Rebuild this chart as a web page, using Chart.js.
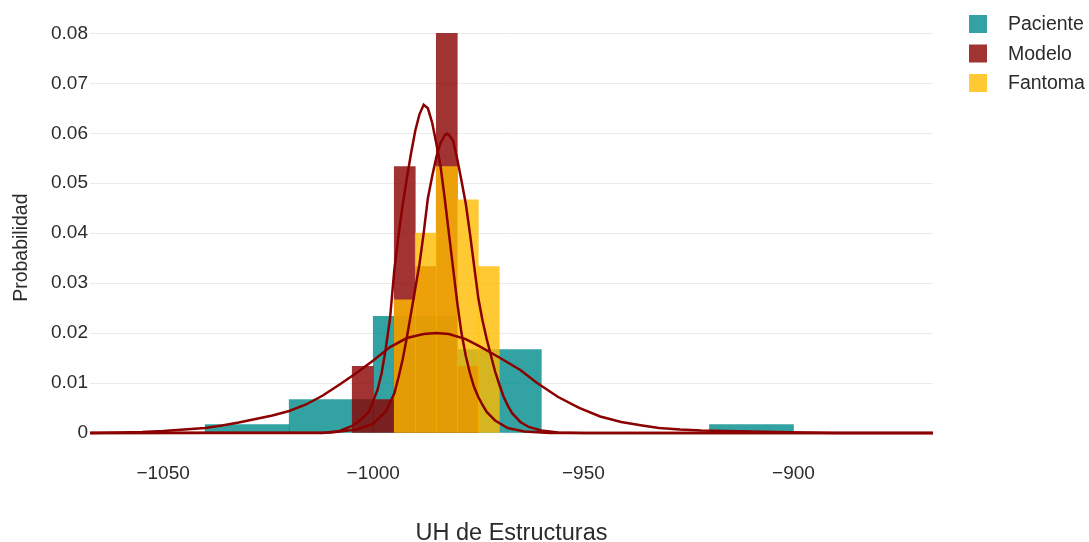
<!DOCTYPE html>
<html>
<head>
<meta charset="utf-8">
<script src="https://cdn.jsdelivr.net/npm/chart.js"></script>
<style>
  html, body { margin: 0; padding: 0; background: #ffffff; }
  #wrap { width: 1089px; height: 542px; }
</style>
</head>
<body>
<div id="wrap"><canvas id="chart" width="1089" height="542"></canvas></div>
<script>
// Histogram bin centres (HU) and densities per group
const pacienteBins = [-1030, -1010, -990, -970, -910];
const pacienteDensity = [0.00167, 0.00667, 0.02333, 0.01667, 0.00167];

const modeloBins = [-1002.5, -997.5, -992.5, -987.5, -982.5, -977.5];
const modeloDensity = [0.01333, 0.00667, 0.05333, 0.03333, 0.08, 0.01333];

const fantomaBins = [-992.5, -987.5, -982.5, -977.5, -972.5];
const fantomaDensity = [0.02667, 0.04, 0.05333, 0.04667, 0.03333];

// Density curves (HU, density)
const pacienteCurveX = [-1067.4, -1060, -1055, -1050, -1045, -1040, -1036, -1032, -1028, -1024,
  -1020, -1016, -1012, -1008, -1004, -1000, -996, -992, -988, -985,
  -982, -978, -975, -970, -965, -961, -956, -951, -946, -941,
  -936, -932, -927, -922, -916, -910, -904, -898, -890, -866.8];
const pacienteCurveY = [0, 0.0001, 0.0002, 0.0004, 0.0007, 0.0010, 0.0015, 0.0021, 0.0028, 0.0035,
  0.0044, 0.0057, 0.0075, 0.0097, 0.0120, 0.0145, 0.0172, 0.0190, 0.0198, 0.0200,
  0.0198, 0.0188, 0.0175, 0.0151, 0.0126, 0.0100, 0.0072, 0.0050, 0.0033, 0.0022,
  0.0015, 0.0010, 0.0007, 0.0005, 0.0004, 0.0003, 0.0002, 0.0001, 0, 0];

const modeloCurveX = [-1067.4, -1012, -1008, -1005, -1003, -1001, -999, -998, -997, -996,
  -995, -994, -993, -992, -991, -990, -989, -988, -987, -986,
  -985, -984, -983, -982, -981, -980, -979, -978, -977, -976,
  -975, -974, -973, -971, -968, -964, -958, -866.8];
const modeloCurveY = [0, 0, 0.0004, 0.0014, 0.0026, 0.0043, 0.0086, 0.0120, 0.0170, 0.0230,
  0.0325, 0.0395, 0.0456, 0.0510, 0.0560, 0.0605, 0.0638, 0.0657, 0.0650, 0.0622,
  0.0580, 0.0535, 0.0470, 0.0400, 0.0330, 0.0260, 0.0200, 0.0155, 0.0120, 0.0092,
  0.0072, 0.0056, 0.0042, 0.0025, 0.0010, 0.0003, 0, 0];

const fantomaCurveX = [-1067.4, -1010, -1004, -1000, -997, -995, -994, -993, -992, -991,
  -990, -989, -988, -987, -986, -985, -984, -983, -982.5, -982,
  -981, -980, -979, -978, -977, -976, -975, -974, -973, -972,
  -971, -970, -969, -968, -967, -965, -963, -960, -956, -950, -866.8];
const fantomaCurveY = [0, 0.0001, 0.0007, 0.0018, 0.0043, 0.0079, 0.0111, 0.0147, 0.0191, 0.0240,
  0.0289, 0.0338, 0.0400, 0.0470, 0.0513, 0.0552, 0.0580, 0.0596, 0.0599, 0.0597,
  0.0585, 0.0548, 0.0505, 0.0460, 0.0400, 0.0335, 0.0270, 0.0225, 0.0188, 0.0155,
  0.0123, 0.0097, 0.0073, 0.0055, 0.0040, 0.0022, 0.0012, 0.0005, 0.0001, 0, 0];

// Axis ticks
const xTickValues = [-1050, -1000, -950, -900];
const xTickLabels = ['\u22121050', '\u22121000', '\u2212950', '\u2212900'];
const yTickValues = [0, 0.01, 0.02, 0.03, 0.04, 0.05, 0.06, 0.07, 0.08];
const yTickLabels = ['0', '0.01', '0.02', '0.03', '0.04', '0.05', '0.06', '0.07', '0.08'];

const seriesNames = ['Paciente', 'Modelo', 'Fantoma'];

const FONT = "'Liberation Sans', Arial, Helvetica, sans-serif";
const TEXT = '#2b2b2b';
const X_MIN = -1067.4, X_MAX = -866.8;
const CURVE_COLOR = '#8b0000';

const pairs = (xs, ys) => xs.map((x, i) => ({ x, y: ys[i] }));
const fixedTicks = (values) => (scale) => { scale.ticks = values.map(v => ({ value: v })); };

// Each histogram sits on its own hidden x scale so its bars span its own bin width
const hiddenX = () => ({
  type: 'linear', axis: 'x', display: false, offset: false, min: X_MIN, max: X_MAX,
  afterBuildTicks: fixedTicks(xTickValues)
});

const barSet = (label, bins, dens, color, axisId, order) => ({
  type: 'bar', label, xAxisID: axisId,
  data: pairs(bins, dens),
  backgroundColor: color, borderWidth: 0,
  grouped: false, barPercentage: 1, categoryPercentage: 1,
  order
});

const curveSet = (label, xs, ys) => ({
  type: 'line', label, xAxisID: 'x',
  data: pairs(xs, ys),
  borderColor: CURVE_COLOR, borderWidth: 2.5,
  pointRadius: 0, pointHoverRadius: 0, fill: false, tension: 0,
  order: 0
});

// Legend drawn in the right margin, one swatch per histogram
const sideLegend = {
  id: 'sideLegend',
  afterDraw(chart, args, o) {
    const ctx = chart.ctx;
    ctx.save();
    ctx.font = `${o.fontSize}px ${FONT}`;
    ctx.textBaseline = 'middle';
    ctx.textAlign = 'left';
    let row = 0;
    chart.data.datasets.forEach(ds => {
      if (ds.type !== 'bar') return;
      const cy = o.top + row * o.rowGap;
      ctx.fillStyle = ds.backgroundColor;
      ctx.fillRect(o.left, cy - o.box / 2, o.box, o.box);
      ctx.fillStyle = TEXT;
      ctx.fillText(ds.label, o.textLeft, cy + 1);
      row++;
    });
    ctx.restore();
  }
};

new Chart(document.getElementById('chart'), {
  type: 'bar',
  data: {
    datasets: [
      barSet(seriesNames[0], pacienteBins, pacienteDensity, 'rgba(0,139,139,0.8)', 'xPaciente', 3),
      barSet(seriesNames[1], modeloBins, modeloDensity, 'rgba(139,0,0,0.8)', 'xModelo', 2),
      barSet(seriesNames[2], fantomaBins, fantomaDensity, 'rgba(255,187,0,0.8)', 'xFantoma', 1),
      curveSet(seriesNames[0] + ' densidad', pacienteCurveX, pacienteCurveY),
      curveSet(seriesNames[1] + ' densidad', modeloCurveX, modeloCurveY),
      curveSet(seriesNames[2] + ' densidad', fantomaCurveX, fantomaCurveY)
    ]
  },
  options: {
    responsive: false,
    animation: false,
    devicePixelRatio: 1,
    layout: { padding: { top: 4.65, right: 156, bottom: 0, left: 0 } },
    plugins: {
      legend: { display: false },
      tooltip: { enabled: false },
      sideLegend: { left: 969, top: 24, rowGap: 29.5, box: 18, textLeft: 1008, fontSize: 19.5 }
    },
    scales: {
      x: {
        type: 'linear', offset: false, min: X_MIN, max: X_MAX,
        afterBuildTicks: fixedTicks(xTickValues),
        afterFit: (s) => { s.height = 60.1; },
        grid: { display: false, drawTicks: false, offset: false },
        border: { display: false },
        ticks: {
          // mirror keeps the labels unclipped where they sit above the axis box
          mirror: true,
          padding: -3, color: TEXT, maxRotation: 0, autoSkip: false,
          font: { family: FONT, size: 19 },
          callback: (v, i) => xTickLabels[i]
        },
        title: {
          display: true, text: 'UH de Estructuras', color: TEXT,
          font: { family: FONT, size: 23.5, lineHeight: 1 },
          padding: { top: 0, bottom: -3.5 }
        }
      },
      xPaciente: hiddenX(),
      xModelo: hiddenX(),
      xFantoma: hiddenX(),
      y: {
        min: -0.0098, max: 0.084,
        afterBuildTicks: fixedTicks(yTickValues),
        afterFit: (s) => { s.width = 90; },
        grid: { color: '#ebebeb', lineWidth: 1, drawTicks: false },
        border: { display: false },
        ticks: {
          padding: 2, color: TEXT,
          font: { family: FONT, size: 19 },
          callback: (v, i) => yTickLabels[i]
        },
        title: {
          display: true, text: 'Probabilidad', color: TEXT,
          font: { family: FONT, size: 19.5, lineHeight: 1.2 },
          padding: { top: 10, bottom: 0 }
        }
      }
    }
  },
  plugins: [sideLegend]
});
</script>
</body>
</html>
